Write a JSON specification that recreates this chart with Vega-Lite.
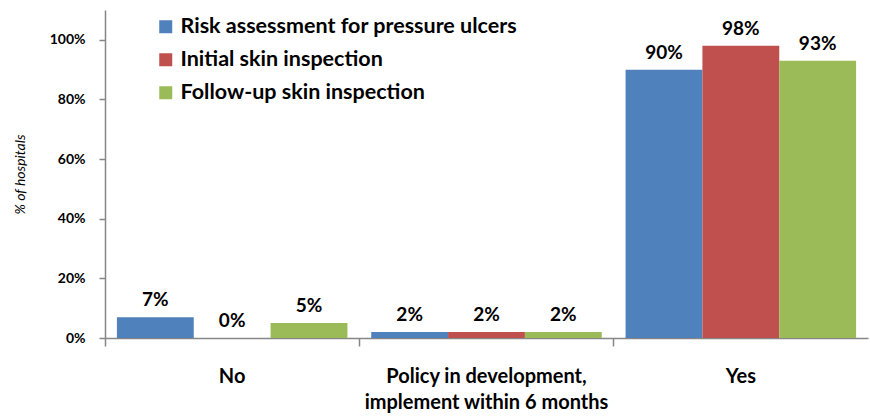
{
  "$schema": "https://vega.github.io/schema/vega-lite/v6.json",
  "width": 763,
  "height": 328,
  "autosize": {"type": "none"},
  "padding": {"left": 105, "top": 10, "right": 2, "bottom": 79},
  "background": "white",
  "config": {"view": {"stroke": null}, "font": "Lato"},
  "data": {
    "values": [
      {"response": "No", "measure": "Risk assessment for pressure ulcers", "pct": 0.07},
      {"response": "No", "measure": "Initial skin inspection", "pct": 0.0},
      {"response": "No", "measure": "Follow-up skin inspection", "pct": 0.05},
      {"response": "Policy in development,|implement within 6 months", "measure": "Risk assessment for pressure ulcers", "pct": 0.02},
      {"response": "Policy in development,|implement within 6 months", "measure": "Initial skin inspection", "pct": 0.02},
      {"response": "Policy in development,|implement within 6 months", "measure": "Follow-up skin inspection", "pct": 0.02},
      {"response": "Yes", "measure": "Risk assessment for pressure ulcers", "pct": 0.90},
      {"response": "Yes", "measure": "Initial skin inspection", "pct": 0.98},
      {"response": "Yes", "measure": "Follow-up skin inspection", "pct": 0.93}
    ]
  },
  "encoding": {
    "x": {
      "field": "response", "type": "nominal", "sort": null,
      "scale": {"paddingInner": 0, "paddingOuter": 0},
      "axis": {
        "title": null, "labelAngle": 0, "bandPosition": 0,
        "labelExpr": "split(datum.label, '|')",
        "labelFont": "Lato", "labelFontSize": 20, "labelFontWeight": "bold", "labelColor": "#000000",
        "labelLineHeight": 26, "labelPadding": 20, "labelBound": false, "labelOverlap": false, "labelLimit": 600,
        "domainColor": "#868686", "domainWidth": 1.5, "tickColor": "#868686", "tickSize": 8, "tickWidth": 1.5,
        "grid": false
      }
    },
    "xOffset": {
      "field": "measure", "type": "nominal",
      "sort": ["Risk assessment for pressure ulcers", "Initial skin inspection", "Follow-up skin inspection"],
      "scale": {"paddingInner": 0, "paddingOuter": 0.155}
    },
    "y": {
      "field": "pct", "type": "quantitative",
      "scale": {"domain": [0, 1.1], "nice": false},
      "axis": {
        "title": "% of hospitals", "titleFont": "Lato", "titleFontStyle": "italic", "titleFontWeight": "normal",
        "titleFontSize": 14, "titleColor": "#000000", "titlePadding": 22,
        "values": [0, 0.2, 0.4, 0.6, 0.8, 1.0],
        "format": ".0%",
        "labelFont": "Lato", "labelFontSize": 14, "labelFontWeight": "bold", "labelColor": "#000000",
        "labelPadding": 14,
        "domainColor": "#868686", "domainWidth": 1.5, "tickColor": "#868686", "tickSize": 6, "tickWidth": 1.5,
        "grid": false
      }
    }
  },
  "layer": [
    {
      "mark": {"type": "bar"},
      "encoding": {
        "color": {
          "field": "measure", "type": "nominal",
          "sort": ["Risk assessment for pressure ulcers", "Initial skin inspection", "Follow-up skin inspection"],
          "scale": {"range": ["#4F81BD", "#C0504D", "#9BBB59"]},
          "legend": {
            "title": null, "orient": "none", "legendX": 50, "legendY": 6,
            "symbolType": "square", "symbolSize": 169, "symbolStrokeWidth": 0,
            "labelFont": "Lato", "labelFontSize": 21.5, "labelFontWeight": "bold", "labelColor": "#000000",
            "labelOffset": 4, "rowPadding": 10, "labelLimit": 600
          }
        }
      }
    },
    {
      "mark": {"type": "text", "baseline": "bottom", "dy": -7, "font": "Lato", "fontSize": 19, "fontWeight": "bold", "color": "#000000"},
      "encoding": {
        "text": {"field": "pct", "type": "quantitative", "format": ".0%"}
      }
    }
  ]
}
